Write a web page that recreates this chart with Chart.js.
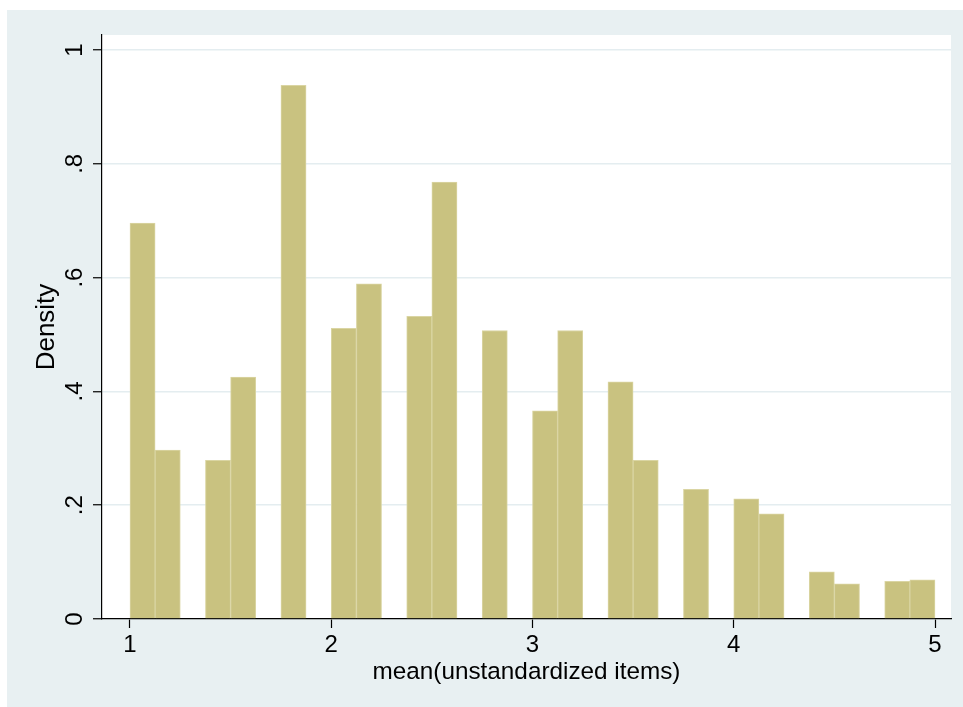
<!DOCTYPE html>
<html>
<head>
<meta charset="utf-8">
<script src="https://cdn.jsdelivr.net/npm/chart.js@4/dist/chart.umd.min.js"></script>
<style>
  html, body { margin: 0; padding: 0; background: #ffffff; }
  canvas { display: block; }
</style>
</head>
<body>
<canvas id="hist" width="963" height="707"></canvas>
<script>
// histogram of mean(unstandardized items), bin width .125 starting at 1
const binMid = [
  1.0625, 1.1875, 1.3125, 1.4375, 1.5625, 1.6875, 1.8125, 1.9375,
  2.0625, 2.1875, 2.3125, 2.4375, 2.5625, 2.6875, 2.8125, 2.9375,
  3.0625, 3.1875, 3.3125, 3.4375, 3.5625, 3.6875, 3.8125, 3.9375,
  4.0625, 4.1875, 4.3125, 4.4375, 4.5625, 4.6875, 4.8125, 4.9375,
];
const density = [
  0.696, 0.297, 0, 0.279, 0.425, 0, 0.938, 0,
  0.511, 0.589, 0, 0.532, 0.768, 0, 0.507, 0,
  0.366, 0.507, 0, 0.417, 0.279, 0, 0.228, 0,
  0.211, 0.185, 0, 0.083, 0.062, 0, 0.066, 0.069,
];
const xTicks = [1, 2, 3, 4, 5];
const yTicks = [0, 0.2, 0.4, 0.6, 0.8, 1];

const COLORS = {
  frame: '#e8f0f2',
  bar: 'rgb(201, 194, 128)',
  barEdge: 'rgb(218, 213, 163)',
  grid: '#e4edf0',
  axis: '#000000',
};

const FAMILY = "'Liberation Sans', Arial, Helvetica, sans-serif";
const FONT = { family: FAMILY, size: 24 };

// stata-ish backdrop: bluish graph region, white plot region
const backdrop = {
  id: 'backdrop',
  beforeDraw(chart) {
    const { ctx, width, height, chartArea: a } = chart;
    ctx.save();
    ctx.fillStyle = '#ffffff';
    ctx.fillRect(0, 0, width, height);
    ctx.fillStyle = COLORS.frame;
    ctx.fillRect(7, 10, width - 7, height - 10);
    ctx.fillStyle = '#ffffff';
    ctx.fillRect(a.left, a.top, a.right - a.left, a.bottom - a.top);
    ctx.restore();
  },
};

function fmtY(v) {
  if (v === 0) return '0';
  if (v === 1) return '1';
  return '.' + Math.round(v * 10);
}

new Chart(document.getElementById('hist'), {
  type: 'bar',
  data: {
    datasets: [{
      data: binMid.map((x, i) => ({ x, y: density[i] })),
      backgroundColor: COLORS.bar,
      borderColor: COLORS.barEdge,
      borderWidth: 1,
      barPercentage: 1,
      categoryPercentage: 1,
    }],
  },
  options: {
    responsive: false,
    animation: false,
    events: [],
    layout: { padding: { left: 0, top: 35, right: 12, bottom: 0 } },
    plugins: { legend: { display: false }, tooltip: { enabled: false } },
    scales: {
      x: {
        type: 'linear',
        offset: false,
        min: 0.861,
        max: 5.0795,
        afterBuildTicks: s => { s.ticks = xTicks.map(v => ({ value: v })); },
        afterFit: s => { s.height = 88; },
        grid: {
          offset: false,
          drawOnChartArea: false,
          drawTicks: true,
          tickLength: 9,
          tickColor: COLORS.axis,
          tickWidth: 1.2,
        },
        border: { color: COLORS.axis, width: 1.2 },
        ticks: {
          font: FONT,
          color: '#000',
          padding: 3,
          maxRotation: 0,
          autoSkip: false,
        },
        title: {
          display: true,
          text: 'mean(unstandardized items)',
          font: { family: FAMILY, size: 24.3, lineHeight: 1.2 },
          color: '#000',
          padding: { top: 0, bottom: 20 },
        },
      },
      y: {
        type: 'linear',
        min: 0,
        max: 1.0264,
        afterBuildTicks: s => { s.ticks = yTicks.map(v => ({ value: v })); },
        afterFit: s => { s.width = 102; },
        grid: {
          color: COLORS.grid,
          lineWidth: 1.5,
          drawTicks: true,
          tickLength: 9,
          tickColor: COLORS.axis,
          tickWidth: 1.2,
        },
        border: { color: COLORS.axis, width: 1.2 },
        ticks: {
          font: FONT,
          color: '#000',
          padding: 8,
          minRotation: 90,
          maxRotation: 90,
          crossAlign: 'center',
          autoSkip: false,
          callback: v => fmtY(v),
        },
        title: {
          display: true,
          text: 'Density',
          font: { family: FAMILY, size: 26, lineHeight: 1.2 },
          color: '#000',
          padding: { top: 31, bottom: 0 },
        },
      },
    },
  },
  plugins: [backdrop],
});
</script>
</body>
</html>
